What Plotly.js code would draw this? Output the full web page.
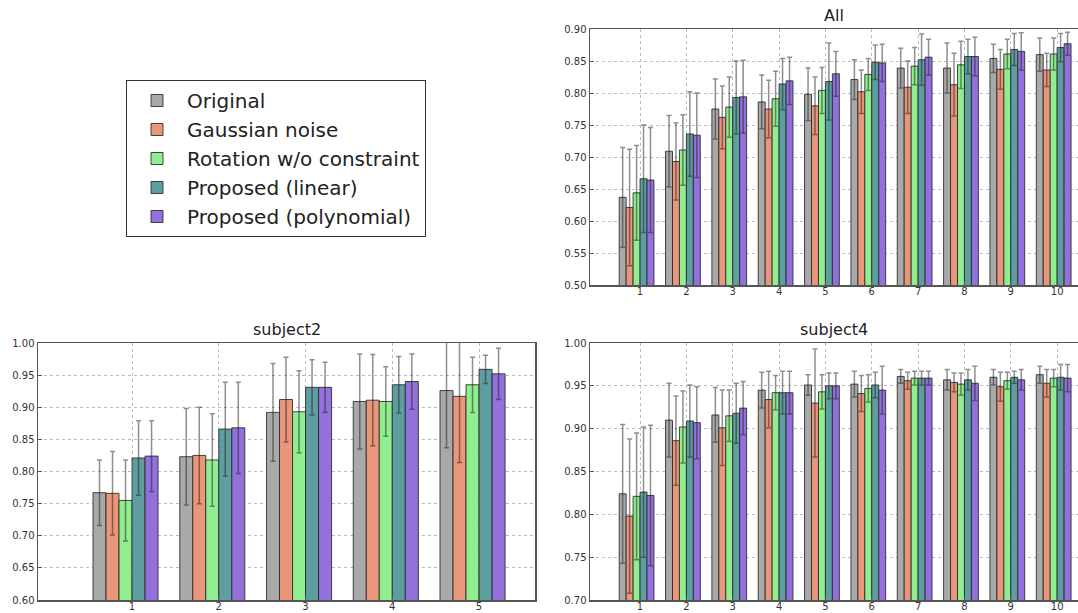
<!DOCTYPE html>
<html>
<head>
<meta charset="utf-8">
<script src="https://cdn.plot.ly/plotly-3.0.1.min.js"></script>
<style>
html,body{margin:0;padding:0;background:#fff;overflow:hidden;}
#chart{width:1078px;height:613px;}
</style>
</head>
<body>
<div id="chart"></div>
<script>
// ---- data ----
const methods = ["Original", "Gaussian noise", "Rotation w/o constraint", "Proposed (linear)", "Proposed (polynomial)"];
const allCats = [1, 2, 3, 4, 5, 6, 7, 8, 9, 10];
const s2Cats = [1, 2, 3, 4, 5];
const s4Cats = [1, 2, 3, 4, 5, 6, 7, 8, 9, 10];

// "All" panel: rows follow methods order
const allMeans = [
  [0.637, 0.709, 0.775, 0.786, 0.798, 0.821, 0.839, 0.839, 0.854, 0.860],
  [0.621, 0.693, 0.762, 0.775, 0.780, 0.802, 0.809, 0.813, 0.837, 0.836],
  [0.644, 0.711, 0.778, 0.791, 0.804, 0.829, 0.842, 0.844, 0.861, 0.861],
  [0.666, 0.736, 0.793, 0.814, 0.818, 0.848, 0.852, 0.857, 0.868, 0.871],
  [0.664, 0.734, 0.794, 0.819, 0.830, 0.847, 0.856, 0.857, 0.865, 0.877]
];
const allErrs = [
  [0.078, 0.056, 0.047, 0.042, 0.041, 0.031, 0.031, 0.039, 0.022, 0.026],
  [0.091, 0.060, 0.049, 0.045, 0.045, 0.034, 0.041, 0.049, 0.031, 0.026],
  [0.074, 0.055, 0.047, 0.043, 0.036, 0.025, 0.029, 0.037, 0.023, 0.025],
  [0.084, 0.066, 0.057, 0.040, 0.060, 0.027, 0.040, 0.027, 0.025, 0.022],
  [0.082, 0.066, 0.057, 0.037, 0.035, 0.029, 0.028, 0.030, 0.029, 0.018]
];

// "subject2" panel
const s2Means = [
  [0.767, 0.823, 0.892, 0.909, 0.926],
  [0.766, 0.825, 0.912, 0.911, 0.917],
  [0.755, 0.818, 0.893, 0.909, 0.935],
  [0.821, 0.866, 0.931, 0.935, 0.959],
  [0.824, 0.868, 0.931, 0.940, 0.952]
];
const s2Errs = [
  [0.051, 0.075, 0.076, 0.074, 0.089],
  [0.065, 0.075, 0.066, 0.071, 0.103],
  [0.063, 0.072, 0.064, 0.054, 0.043],
  [0.058, 0.073, 0.043, 0.044, 0.022],
  [0.055, 0.071, 0.039, 0.043, 0.040]
];

// "subject4" panel
const s4Means = [
  [0.824, 0.910, 0.916, 0.945, 0.951, 0.952, 0.961, 0.957, 0.960, 0.963],
  [0.798, 0.886, 0.901, 0.934, 0.930, 0.941, 0.956, 0.954, 0.949, 0.953],
  [0.821, 0.902, 0.915, 0.942, 0.943, 0.947, 0.959, 0.952, 0.956, 0.959],
  [0.826, 0.909, 0.918, 0.942, 0.950, 0.951, 0.959, 0.957, 0.960, 0.960],
  [0.822, 0.907, 0.924, 0.942, 0.950, 0.945, 0.959, 0.953, 0.957, 0.959]
];
const s4Errs = [
  [0.081, 0.043, 0.032, 0.021, 0.012, 0.015, 0.008, 0.012, 0.009, 0.010],
  [0.090, 0.052, 0.044, 0.033, 0.063, 0.021, 0.010, 0.011, 0.017, 0.016],
  [0.074, 0.042, 0.030, 0.020, 0.020, 0.016, 0.008, 0.013, 0.010, 0.010],
  [0.076, 0.042, 0.035, 0.025, 0.015, 0.015, 0.008, 0.012, 0.007, 0.015],
  [0.082, 0.042, 0.031, 0.025, 0.015, 0.028, 0.008, 0.020, 0.012, 0.016]
];

// ---- styles ----
const colors = ["#a9a9a9", "#e9967a", "#90ee90", "#5f9ea0", "#9370db"];
const BAR_W = 0.15;
const FONT = "DejaVu Sans, Bitstream Vera Sans, sans-serif";

function panelTraces(cats, means, errs, xa, ya, showLegend) {
  return methods.map((name, s) => ({
    type: "bar",
    name: name,
    x: cats,
    y: means[s],
    width: BAR_W,
    offset: -0.45 + BAR_W * s,
    xaxis: xa,
    yaxis: ya,
    showlegend: showLegend,
    legendgroup: name,
    marker: { color: colors[s], line: { color: "rgba(40,40,40,0.85)", width: 1 } },
    error_y: { type: "data", array: errs[s], visible: true, color: "rgba(30,30,30,0.5)", thickness: 1.5, width: 2.5 },
    hoverinfo: "x+y+name"
  }));
}

const data = [].concat(
  panelTraces(allCats, allMeans, allErrs, "x", "y", true),
  panelTraces(s2Cats, s2Means, s2Errs, "x2", "y2", false),
  panelTraces(s4Cats, s4Means, s4Errs, "x3", "y3", false)
);

const W = 1078, H = 613;
function xd(a, b) { return [a / W, Math.min(1, b / W)]; }
function yd(top, bottom) { return [1 - bottom / H, 1 - top / H]; }

function xAxis(domain, range, cats, anchor) {
  return {
    domain: domain, range: range, anchor: anchor,
    tickmode: "array", tickvals: cats, ticktext: cats.map(String),
    showline: true, mirror: true, linecolor: "#555", linewidth: 1.5,
    ticks: "inside", ticklen: 4, tickcolor: "#555",
    ticklabelstandoff: -4,
    showgrid: true, gridcolor: "#bbb", griddash: "dot", gridwidth: 1,
    zeroline: false,
    tickfont: { family: FONT, size: 10, color: "#333" },
    fixedrange: true
  };
}
function yAxis(domain, range, anchor) {
  return {
    domain: domain, range: range, anchor: anchor,
    dtick: 0.05, tickformat: ".2f",
    showline: true, mirror: true, linecolor: "#555", linewidth: 1.5,
    ticks: "inside", ticklen: 4, tickcolor: "#555",
    showgrid: true, gridcolor: "#bbb", griddash: "dot", gridwidth: 1,
    zeroline: false,
    tickfont: { family: FONT, size: 10, color: "#333" },
    fixedrange: true
  };
}

const layout = {
  width: W, height: H,
  margin: { l: 0, r: 0, t: 0, b: 0 },
  paper_bgcolor: "#fff", plot_bgcolor: "#fff",
  barmode: "overlay",
  font: { family: FONT, color: "#222" },
  xaxis: xAxis(xd(590, 1078), [-0.08, 10.45], allCats, "y"),
  yaxis: yAxis(yd(29, 285), [0.5, 0.9], "x"),
  xaxis2: xAxis(xd(38, 535), [-0.084, 5.645], s2Cats, "y2"),
  yaxis2: yAxis(yd(343, 600), [0.6, 1.0], "x2"),
  xaxis3: xAxis(xd(590, 1078), [-0.08, 10.45], s4Cats, "y3"),
  yaxis3: yAxis(yd(343, 600), [0.7, 1.0], "x3"),
  legend: {
    x: 126 / W, y: 1 - 80 / H, xanchor: "left", yanchor: "top",
    bgcolor: "#fff", bordercolor: "#333", borderwidth: 1,
    font: { family: FONT, size: 20, color: "#222" },
    itemwidth: 50, tracegroupgap: 0
  },
  annotations: [
    { text: "All", xref: "paper", yref: "paper", x: (590 + 1078) / 2 / W, y: 1 - 27 / H, xanchor: "center", yanchor: "bottom", showarrow: false, font: { family: FONT, size: 16, color: "#222" } },
    { text: "subject2", xref: "paper", yref: "paper", x: (38 + 535) / 2 / W, y: 1 - 341 / H, xanchor: "center", yanchor: "bottom", showarrow: false, font: { family: FONT, size: 16, color: "#222" } },
    { text: "subject4", xref: "paper", yref: "paper", x: (590 + 1078) / 2 / W, y: 1 - 341 / H, xanchor: "center", yanchor: "bottom", showarrow: false, font: { family: FONT, size: 16, color: "#222" } }
  ]
};

Plotly.newPlot("chart", data, layout, { displayModeBar: false, staticPlot: true });
</script>
</body>
</html>
